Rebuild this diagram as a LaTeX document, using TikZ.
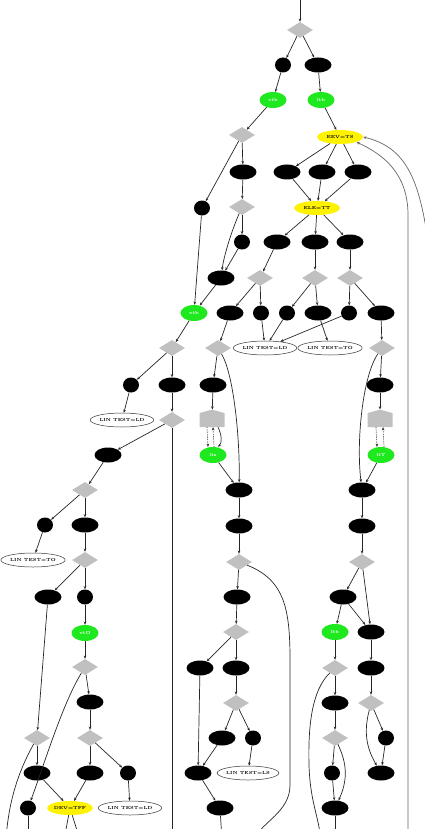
\documentclass[tikz,border=0pt]{standalone}
\usetikzlibrary{shapes.geometric,shapes.symbols,arrows.meta}
\definecolor{nodegreen}{RGB}{30,232,30}
\definecolor{nodeyellow}{RGB}{255,242,0}
\definecolor{diagray}{RGB}{192,192,192}
\begin{document}
\begin{tikzpicture}[x=1pt,y=-1pt,
  every node/.style={inner sep=0pt, font=\fontsize{4.4}{5}\selectfont\bfseries},
  blk/.style={ellipse, fill=black, minimum width=27pt, minimum height=15pt},
  sml/.style={ellipse, fill=black, minimum width=16pt, minimum height=15pt},
  grn/.style={ellipse, fill=nodegreen, text=white, minimum width=27pt, minimum height=16pt},
  ylw/.style={ellipse, fill=nodeyellow, minimum width=46pt, minimum height=14pt},
  wht/.style={ellipse, draw=black!80, line width=0.5pt, fill=white, minimum width=53pt, minimum height=14pt},
  dia/.style={diamond, fill=diagray, minimum width=26pt, minimum height=16pt},
  hse/.style={signal, signal to=north, signal from=nowhere, signal pointer angle=150,
              fill=diagray, minimum width=25pt, minimum height=14pt},
  edge/.style={draw=black!85, line width=0.7pt, -{Stealth[length=3.2pt,width=2.6pt]}},
  dotedge/.style={edge, densely dotted},
  backedge/.style={edge, draw=black!60}]
\useasboundingbox (0,0) rectangle (425,829);
\clip (0,0) rectangle (425,829);

% ---------- nodes ----------
\coordinate (in0) at (300,-4);
\node[dia] (d0) at (300,30) {};
\node[sml] (a1) at (283,65) {};
\node[blk] (a2) at (318,65) {};
\node[grn] (g1) at (273,100) {vtb};
\node[grn] (g2) at (321,100) {ltb};
\node[dia] (d1) at (242,135) {};
\node[ylw] (y1) at (340,137) {EEV=TS};
\node[blk] (e1) at (243,172) {};
\node[blk] (e2) at (287,172) {};
\node[blk] (e3) at (322,172) {};
\node[blk] (e4) at (358,172) {};
\node[sml] (f1) at (202,208) {};
\node[dia] (d2) at (242,207) {};
\node[ylw] (y2) at (317,208) {ELE=TT};
\node[sml] (h1) at (242,242) {};
\node[blk] (h2) at (277,242) {};
\node[blk] (h3) at (315,242) {};
\node[blk] (h4) at (350,242) {};
\node[blk] (i1) at (221,278) {};
\node[dia] (d3) at (260,278) {};
\node[dia] (d4) at (315,278) {};
\node[dia] (d5) at (350,278) {};
\node[grn] (g3) at (194,313) {vtb};
\node[blk] (j1) at (230,313) {};
\node[sml] (j2) at (261,313) {};
\node[sml] (j3) at (287,313) {};
\node[blk] (j4) at (318,313) {};
\node[sml] (j5) at (349,313) {};
\node[blk] (j6) at (381,313) {};
\node[dia] (d8) at (172,348) {};
\node[dia] (d6) at (218,348) {};
\node[wht] (w1) at (265,348) {LIN TEST=LD};
\node[wht] (w2) at (330,348) {LIN TEST=TO};
\node[dia] (d7) at (382,348) {};
\node[sml] (k1) at (131,385) {};
\node[blk] (k2) at (172,385) {};
\node[blk] (k3) at (213,385) {};
\node[blk] (o1) at (380,385) {};
\node[wht] (w3) at (122,420) {LIN TEST=LD};
\node[dia] (d9) at (172,420) {};
\node[hse] (hs1) at (212,420) {};
\node[hse] (hs2) at (380,420) {};
\node[blk] (l1) at (108,455) {};
\node[grn] (g4) at (213,455) {lts};
\node[grn] (g5) at (381,455) {ltT};
\node[dia] (d10) at (85,490) {};
\node[blk] (m1) at (239,490) {};
\node[blk] (n1) at (362,490) {};
\node[sml] (p1) at (45,525) {};
\node[blk] (p2) at (85,525) {};
\node[blk] (m2) at (239,526) {};
\node[blk] (n2) at (362,526) {};
\node[wht] (w4) at (33,560) {LIN TEST=TO};
\node[dia] (d13) at (85,560) {};
\node[dia] (d11) at (239,562) {};
\node[dia] (d12) at (362,562) {};
\node[blk] (q1) at (48,597) {};
\node[sml] (q2) at (85,597) {};
\node[blk] (s1) at (237,597) {};
\node[blk] (t1) at (343,597) {};
\node[grn] (g6) at (85,633) {vtO};
\node[dia] (d15) at (236,632) {};
\node[grn] (g7) at (335,632) {ltb};
\node[blk] (t2) at (371,632) {};
\node[dia] (d14) at (85,667) {};
\node[blk] (s2) at (200,668) {};
\node[blk] (s3) at (236,668) {};
\node[dia] (d17) at (335,668) {};
\node[blk] (t3) at (371,668) {};
\node[blk] (u1) at (90,702) {};
\node[dia] (d16) at (236,703) {};
\node[blk] (t4) at (335,703) {};
\node[dia] (d19) at (371,703) {};
\node[dia] (d20) at (37,738) {};
\node[dia] (d21) at (90,738) {};
\node[blk] (s4) at (222,738) {};
\node[sml] (s5) at (253,738) {};
\node[dia] (d18) at (335,738) {};
\node[sml] (t5) at (386,738) {};
\node[blk] (u2) at (37,773) {};
\node[blk] (u3) at (90,773) {};
\node[sml] (u4) at (128,773) {};
\node[blk] (s6) at (198,773) {};
\node[wht] (w6) at (248,773) {LIN TEST=LS};
\node[sml] (t6) at (332,773) {};
\node[blk] (t8) at (381,773) {};
\node[sml] (v1) at (28,808) {};
\node[ylw] (y3) at (70,808) {DEV=TFF};
\node[wht] (w5) at (130,808) {LIN TEST=LD};
\node[blk] (s7) at (220,808) {};
\node[blk] (t7) at (335,808) {};

% loose ends beyond the border
\coordinate (x1) at (6,840);
\coordinate (x2) at (28,840);
\coordinate (x3) at (64,840);
\coordinate (x4) at (80,840);
\coordinate (x5) at (172,840);
\coordinate (x6) at (222,840);
\coordinate (x7) at (254,840);
\coordinate (x8) at (321,840);
\coordinate (x9) at (335,840);
\coordinate (x10) at (408,840);
\coordinate (x11) at (436,320);

% ---------- edges ----------
\draw[edge] (in0) -- (d0);
\draw[edge] (d0) -- (a1);
\draw[edge] (d0) -- (a2);
\draw[edge] (a1) -- (g1);
\draw[edge] (a2) -- (g2);
\draw[edge] (g1) -- (d1);
\draw[edge] (g2) -- (y1);
\draw[edge] (d1) -- (e1);
\draw[edge] (d1) -- (f1);
\draw[edge] (y1) -- (e2);
\draw[edge] (y1) -- (e3);
\draw[edge] (y1) -- (e4);
\draw[edge] (e2) -- (y2);
\draw[edge] (e3) -- (y2);
\draw[edge] (e4) -- (y2);
\draw[edge] (e1) -- (d2);
\draw[edge] (d2) -- (h1);
\draw[edge] (d2) .. controls (232,230) and (224,255) .. (i1);
\draw[edge] (h1) -- (i1);
\draw[edge] (y2) -- (h2);
\draw[edge] (y2) -- (h3);
\draw[edge] (y2) -- (h4);
\draw[edge] (f1) -- (g3);
\draw[edge] (i1) -- (g3);
\draw[edge] (h2) -- (d3);
\draw[edge] (h3) -- (d4);
\draw[edge] (h4) -- (d5);
\draw[edge] (d3) -- (j1);
\draw[edge] (d3) -- (j2);
\draw[edge] (d4) -- (j3);
\draw[edge] (d4) -- (j4);
\draw[edge] (d5) -- (j5);
\draw[edge] (d5) -- (j6);
\draw[edge] (j2) -- (w1);
\draw[edge] (j3) -- (w1);
\draw[edge] (j5) -- (w1);
\draw[edge] (j4) -- (w2);
\draw[edge] (j1) -- (d6);
\draw[edge] (j6) -- (d7);
\draw[edge] (g3) -- (d8);
\draw[edge] (d8) -- (k1);
\draw[edge] (d8) -- (k2);
\draw[edge] (d6) -- (k3);
\draw[edge] (d6) .. controls (234,375) and (240,440) .. (m1);
\draw[edge] (d7) -- (o1);
\draw[edge] (d7) .. controls (363,375) and (356,440) .. (n1);
\draw[edge] (k1) -- (w3);
\draw[edge] (k2) -- (d9);
\draw[edge] (k3) -- (hs1);
\draw[edge] (o1) -- (hs2);
\draw[dotedge] ([xshift=-5pt]hs1.south) -- ([xshift=-5pt]g4.north);
\draw[dotedge] ([xshift=1pt]g4.north) -- ([xshift=1pt]hs1.south);
\draw[edge] ([xshift=6pt]hs1.south) .. controls (222,435) and (222,443) .. ([xshift=5pt]g4.north);
\draw[dotedge] ([xshift=-4pt]hs2.south) -- ([xshift=-4pt]g5.north);
\draw[dotedge] ([xshift=3pt]g5.north) -- ([xshift=3pt]hs2.south);
\draw[edge] (g4) -- (m1);
\draw[edge] (g5) -- (n1);
\draw[edge] (d9) -- (l1);
\draw[edge] (d9) -- (x5);
\draw[edge] (l1) -- (d10);
\draw[edge] (d10) -- (p1);
\draw[edge] (d10) -- (p2);
\draw[edge] (p1) -- (w4);
\draw[edge] (p2) -- (d13);
\draw[edge] (d13) -- (q1);
\draw[edge] (d13) -- (q2);
\draw[edge] (q2) -- (g6);
\draw[edge] (g6) -- (d14);
\draw[edge] (q1) -- (d20);
\draw[edge] (d14) -- (u1);
\draw[edge] (d14) .. controls (62,705) and (44,765) .. (v1);
\draw[edge] (u1) -- (d21);
\draw[edge] (d20) -- (u2);
\draw[edge] (d20) .. controls (22,765) and (9,795) .. (x1);
\draw[edge] (d21) -- (u3);
\draw[edge] (d21) -- (u4);
\draw[edge] (u2) -- (y3);
\draw[edge] (u3) -- (y3);
\draw[edge] (u4) -- (w5);
\draw[edge] (v1) -- (x2);
\draw[edge] (y3) -- (x3);
\draw[edge] (y3) -- (x4);
\draw[edge] (m1) -- (m2);
\draw[edge] (m2) -- (d11);
\draw[edge] (n1) -- (n2);
\draw[edge] (n2) -- (d12);
\draw[edge] (d11) -- (s1);
\draw[edge] (d11) .. controls (285,580) and (290,610) .. (290,660)
                  -- (290,785) .. controls (290,812) and (262,822) .. (x7);
\draw[edge] (s1) -- (d15);
\draw[edge] (d15) -- (s2);
\draw[edge] (d15) -- (s3);
\draw[edge] (s3) -- (d16);
\draw[edge] (d16) -- (s4);
\draw[edge] (d16) -- (s5);
\draw[edge] (s2) -- (s6);
\draw[edge] (s4) -- (s6);
\draw[edge] (s5) -- (w6);
\draw[edge] (s6) -- (s7);
\draw[edge] (s7) -- (x6);
\draw[edge] (d12) -- (t1);
\draw[edge] (d12) -- (t2);
\draw[edge] (t1) -- (g7);
\draw[edge] (t1) -- (t2);
\draw[edge] (g7) -- (d17);
\draw[edge] (t2) -- (t3);
\draw[edge] (d17) -- (t4);
\draw[edge] (d17) .. controls (312,690) and (308,725) .. (309,765)
                  .. controls (310,800) and (318,815) .. (x8);
\draw[edge] (t4) -- (d18);
\draw[edge] (d18) -- (t6);
\draw[edge] (d18) to[bend left=25] (t7);
\draw[edge] (t6) -- (t7);
\draw[edge] (t7) -- (x9);
\draw[edge] (t3) -- (d19);
\draw[edge] (d19) -- (t5);
\draw[edge] (d19) to[bend right=22] (t8);
\draw[edge] (t5) -- (t8);

% back edges climbing to the top yellow node
\draw[backedge] (x10) -- (408,215) .. controls (408,175) and (385,155) .. (y1.south east);
\draw[backedge] (x11) .. controls (426,200) and (418,150) .. (y1.east);
\end{tikzpicture}
\end{document}
